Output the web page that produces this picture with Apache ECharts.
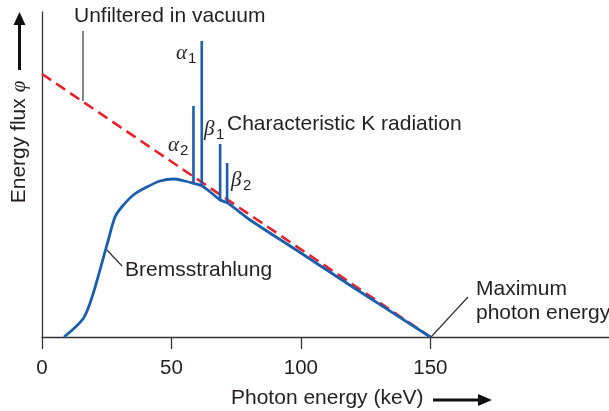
<!DOCTYPE html>
<html>
<head>
<meta charset="utf-8">
<script src="https://cdn.jsdelivr.net/npm/echarts@6/dist/echarts.min.js"></script>
<style>html,body{margin:0;padding:0;background:#fff}#c{width:609px;height:411px}</style>
</head>
<body>
<div id="c"></div>
<script>
// Bremsstrahlung continuum (keV, relative energy flux)
const curveX = [8.5, 16, 19.8, 23.1, 25.6, 28.2, 30.8, 35.3, 40.5, 45.6, 50.8, 55, 58.5, 61.7, 65, 68.8, 71.5, 80.4, 100, 120, 150];
const curveY = [0, 18.7, 43.7, 73.7, 97, 120, 130, 142, 150, 156, 158, 156, 153.7, 151.3, 145, 137, 134.3, 117, 84, 50, 0];
// Unfiltered spectrum in vacuum (dashed)
const unfilteredX = [0, 150];
const unfilteredY = [263, 0];
// Characteristic K lines
const lineNames = ['α2', 'α1', 'β1', 'β2'];
const lineX = [58.5, 61.7, 68.8, 71.5];
const lineBase = [153.7, 151.3, 137, 134.3];
const lineTop = [231, 296, 193, 174];
// Axis ticks
const tickValues = [0, 50, 100, 150];

const BLUE = '#1a5fae';
const RED = '#e8222b';
const INK = '#231f20';
const FONT = '"Liberation Sans", Arial, sans-serif';
const GREEK = '"Liberation Serif", "DejaVu Serif", serif';

const chart = echarts.init(document.getElementById('c'));

const spikeSeries = lineX.map((x, i) => ({
  type: 'line',
  name: lineNames[i],
  data: [[x, lineBase[i]], [x, lineTop[i]]],
  symbol: 'none',
  lineStyle: { color: BLUE, width: 2.6 },
  z: 4,
  silent: true
}));

function txt(x, y, s, size, extra) {
  return Object.assign({
    type: 'text', x: x, y: y, z: 10, silent: true,
    style: Object.assign({ text: s, fontSize: size, fontFamily: FONT, fill: INK, verticalAlign: 'middle', align: 'left' }, extra && extra.style || {})
  }, extra && extra.el || {});
}
function greek(x, y, g, sub) {
  return [
    txt(x, y, g, 21, { style: { fontFamily: GREEK, fontStyle: 'italic' } }),
    txt(x + 12, y + 6, sub, 15)
  ];
}
function seg(x1, y1, x2, y2, w) {
  return { type: 'line', z: 10, silent: true, shape: { x1, y1, x2, y2 }, style: { stroke: '#333', lineWidth: w || 1.2 } };
}

const graphics = [
  txt(74, 16, 'Unfiltered in vacuum', 21),
  seg(83, 31, 83, 101),
  txt(227, 124, 'Characteristic K radiation', 21),
  txt(125, 270, 'Bremsstrahlung', 21),
  seg(107, 250, 122, 266),
  txt(476, 289, 'Maximum', 21),
  txt(476, 313, 'photon energy', 21),
  seg(431, 337, 468, 297),
  ...greek(176, 53, 'α', '1'),
  ...greek(168, 145, 'α', '2'),
  ...greek(204, 129, 'β', '1'),
  ...greek(231, 180, 'β', '2'),
  // x axis name with arrow
  txt(231, 398, 'Photon energy (keV)', 21),
  { type: 'line', z: 10, silent: true, shape: { x1: 433, y1: 400, x2: 479, y2: 400 }, style: { stroke: '#111', lineWidth: 3 } },
  { type: 'polygon', z: 10, silent: true, shape: { points: [[478, 394], [492, 400], [478, 406]] }, style: { fill: '#111' } },
  // y axis name with arrow
  { type: 'text', z: 10, silent: true, x: 19, y: 142, rotation: Math.PI / 2,
    style: { rich: {
      a: { fontSize: 21, fontFamily: FONT, fill: INK },
      p: { fontSize: 21, fontFamily: GREEK, fontStyle: 'italic', fill: INK }
    }, text: '{a|Energy flux }{p|φ}', align: 'center', verticalAlign: 'middle' } },
  { type: 'line', z: 10, silent: true, shape: { x1: 19.5, y1: 70, x2: 19.5, y2: 22 }, style: { stroke: '#111', lineWidth: 3 } },
  { type: 'polygon', z: 10, silent: true, shape: { points: [[13.5, 25], [19.5, 12], [25.5, 25]] }, style: { fill: '#111' } }
];

chart.setOption({
  animation: false,
  backgroundColor: '#fff',
  grid: { left: 42, right: 0, top: 12, bottom: 74, containLabel: false },
  xAxis: {
    type: 'value', min: 0, max: 219,
    axisLine: { show: true, onZero: false, lineStyle: { color: '#333', width: 1.3 } },
    axisTick: { show: true, customValues: tickValues, length: 12, lineStyle: { color: '#333', width: 1.3 } },
    axisLabel: { customValues: tickValues, fontSize: 20.5, fontFamily: FONT, color: INK, margin: 21 },
    splitLine: { show: false }
  },
  yAxis: {
    type: 'value', min: 0, max: 325,
    axisLine: { show: true, onZero: false, lineStyle: { color: '#333', width: 1.3 } },
    axisTick: { show: false },
    axisLabel: { show: false },
    splitLine: { show: false }
  },
  series: [
    {
      type: 'line', name: 'Unfiltered',
      data: unfilteredX.map((x, i) => [x, unfilteredY[i]]),
      symbol: 'none',
      lineStyle: { color: RED, width: 2.6, type: [11, 6] },
      z: 2, silent: true
    },
    {
      type: 'line', name: 'Bremsstrahlung',
      data: curveX.map((x, i) => [x, curveY[i]]),
      symbol: 'none', smooth: 0.3,
      lineStyle: { color: BLUE, width: 2.8 },
      z: 3, silent: true
    },
    ...spikeSeries
  ],
  graphic: graphics
});
</script>
</body>
</html>
